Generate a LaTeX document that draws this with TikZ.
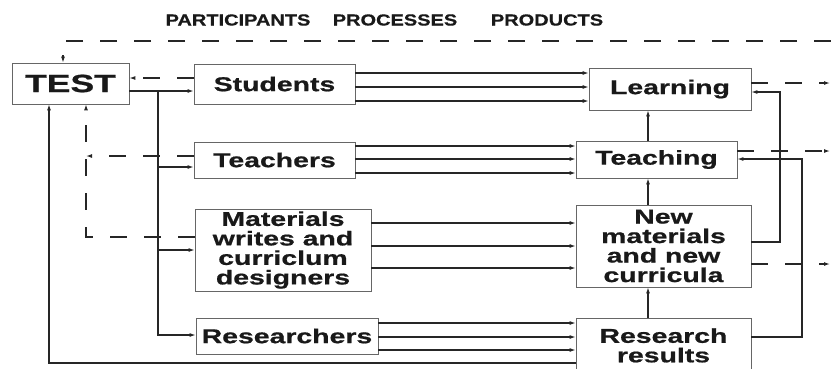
\documentclass[tikz,border=0pt]{standalone}
\usepackage{fontspec}
\newfontfamily\widesans[FakeStretch=1.42,BoldFeatures={FakeBold=0.8}]{Liberation Sans}
\newfontfamily\headsans[FakeStretch=1.25,BoldFeatures={FakeBold=0.6}]{Liberation Sans}
\usetikzlibrary{arrows.meta}

\begin{document}
\begin{tikzpicture}[x=1pt,y=-1pt,>={Latex[length=6pt,width=4pt]},
                    line width=1.1pt,draw=black!85]

  \tikzstyle{every node}=[text=black!90,
                          font=\widesans\bfseries\fontsize{20}{19.5}\selectfont]
  \tikzstyle{box}=[rectangle,draw=black!60,line width=0.8pt,align=center,inner sep=0pt]
  \tikzstyle{head}=[font=\headsans\bfseries\fontsize{16}{16}\selectfont]
  \tikzstyle{fb}=[dash pattern=on 17pt off 17pt]

  \useasboundingbox (0,0) rectangle (831,368);

  \node[head] (HPA) at (238,20)   {PARTICIPANTS};
  \node[head] (HPR) at (395,20)   {PROCESSES};
  \node[head] (HPD) at (547,20)   {PRODUCTS};

  \node[box,minimum width=117pt,minimum height=41pt,
        font=\widesans\bfseries\fontsize{25}{25}\selectfont]
                            (TST) at (70.5,83.5)  {TEST};

  \node[box,minimum width=161pt,minimum height=40pt] (STU) at (274.5,84)  {Students};
  \node[box,minimum width=161pt,minimum height=36pt] (TCH) at (274.5,160) {Teachers};
  \node[box,minimum width=176pt,minimum height=82pt] (MAT) at (283,250)
        {Materials\\writes and\\curriclum\\designers};
  \node[box,minimum width=182pt,minimum height=36pt] (RSR) at (287,336)   {Researchers};

  \node[box,minimum width=162pt,minimum height=42pt] (LRN) at (670,89)    {Learning};
  \node[box,minimum width=161pt,minimum height=37pt] (TEA) at (656.5,159.5) {Teaching};
  \node[box,minimum width=175pt,minimum height=82pt] (NEW) at (663.5,246)
        {New\\materials\\and new\\curricula};
  \node[box,minimum width=175pt,minimum height=54pt,anchor=north] (RRS) at (663.5,318)
        {Research\\results};

  % test feeds every participant
  \coordinate (fork) at (158,91);
  \draw[->] (TST.east |- fork) -- (STU.west |- fork);
  \foreach \n/\y in {TCH/167,MAT/250,RSR/335}
    \draw[->] (fork) |- (\n.west |- 0,\y);

  % processes
  \foreach \y in {73,87,101}  \draw[->] (STU.east |- 0,\y) -- (LRN.west |- 0,\y);
  \foreach \y in {146,159,173} \draw[->] (TCH.east |- 0,\y) -- (TEA.west |- 0,\y);
  \foreach \y in {223,246,268} \draw[->] (MAT.east |- 0,\y) -- (NEW.west |- 0,\y);
  \foreach \y in {323,337,350} \draw[->] (RSR.east |- 0,\y) -- (RRS.west |- 0,\y);

  % products lead up to learning
  \coordinate (col) at (648,0);
  \draw[->] (TEA.north -| col) -- (LRN.south -| col);
  \draw[->] (NEW.north -| col) -- (TEA.south -| col);
  \draw[->] (RRS.north -| col) -- (NEW.south -| col);

  \coordinate (nl) at (780,92);
  \draw[->] (NEW.east |- 0,242) -| (nl) -- (LRN.east |- nl);
  \coordinate (rt) at (802,159);
  \draw[->] (RRS.east |- 0,337) -| (rt) -- (TEA.east |- rt);

  % research results go back to the test
  \coordinate (bl) at (49,363);
  \draw[->] (RRS.west |- bl) -- (bl) -- (TST.south -| bl);

  % dashed feedback
  \draw[fb,->] (STU.west |- 0,78) -- (TST.east |- 0,78);
  \coordinate (dl) at (86,237);
  \draw[fb,->] (TCH.west |- 0,156) -- (dl |- 0,156);
  \draw[fb,->] (MAT.west |- dl) -- (dl) -- (TST.south -| dl);
  \coordinate (tl) at (63,41);
  \coordinate (tr) at (831,41);
  \draw[fb,->] (tr) -- (tl) -- (TST.north -| tl);
  \foreach \n/\y in {LRN/83,TEA/151,NEW/264}
    \draw[fb,->] (\n.east |- 0,\y) -- (830,\y);

\end{tikzpicture}
\end{document}
